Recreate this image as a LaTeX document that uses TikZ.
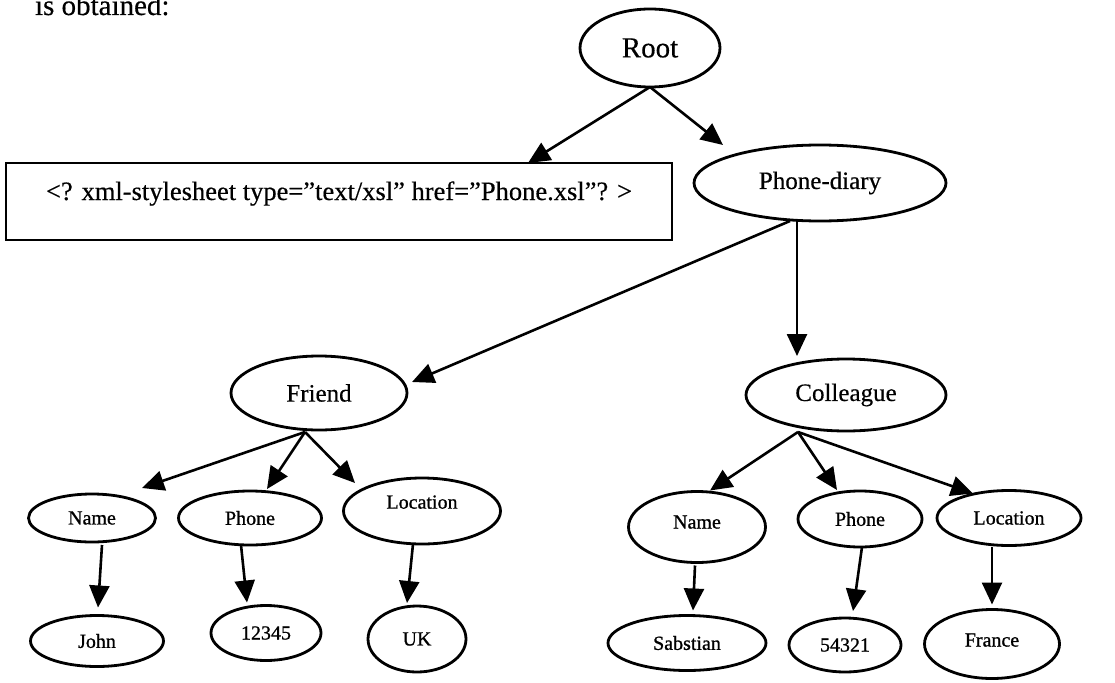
\documentclass[tikz,border=0pt]{standalone}
\usepackage{fontspec}
\setmainfont{Liberation Serif}
\usetikzlibrary{shapes.geometric,arrows.meta,calc}
\begin{document}
\begin{tikzpicture}[x=1pt,y=-1pt,
  every node/.style={inner sep=0pt,outer sep=0pt},
  ell/.style args={#1/#2}{draw,ellipse,line width=2.8pt,fill=white,
    minimum width=#1,minimum height=#2},
  fbig/.style={font=\fontsize{29}{32}\selectfont\addfontfeature{FakeBold=0.4}},
  fmid/.style={font=\fontsize{25}{28}\selectfont\addfontfeature{FakeBold=0.4}},
  fbox/.style={font=\fontsize{26.5}{29}\selectfont\addfontfeature{FakeBold=0.4}},
  fsmall/.style={font=\fontsize{20}{22}\selectfont\addfontfeature{FakeBold=0.9}},
  arr/.style={line width=2.6pt,-{Triangle[length=22pt,width=20pt]}}]
\useasboundingbox (0,0) rectangle (1115,682);

% lead-in text, partly above the top edge
\node[fbig,anchor=base west] (lead) at (35,15) {is obtained:};

% upper levels
\node[ell=140/78,fbig] (root) at (650,48) {Root};
\node[draw,line width=2.8pt,fill=white,fbox,minimum width=666,minimum height=77,
  text height=17pt,text depth=20pt] (pi) at (339,201.5)
  {<? xml-stylesheet type=”text/xsl” href=”Phone.xsl”? >};
\node[ell=252/76,fmid] (pd) at (820,183) {Phone-diary};
\node[ell=176/74,fmid] (friend) at (319,393) {Friend};
\node[ell=200/72,fmid] (col) at (846,395) {Colleague};

% Friend subtree
\node[ell=127/48,fsmall] (name1) at (92,518) {Name};
\node[ell=143/54,fsmall] (phone1) at (250,518) {Phone};
\node[ell=157/66,fsmall,text depth=18pt] (loc1) at (422,511) {Location};
\node[ell=133/51,fsmall] (john) at (97,641) {John};
\node[ell=110/55,fsmall] (v12345) at (266,633) {12345};
\node[ell=98/66,fsmall] (uk) at (417,639) {UK};

% Colleague subtree
\node[ell=137/71,fsmall,text depth=10pt] (name2) at (697,527) {Name};
\node[ell=124/56,fsmall] (phone2) at (860,519) {Phone};
\node[ell=144/55,fsmall] (loc2) at (1009,518) {Location};
\node[ell=158/55,fsmall] (sab) at (687,643) {Sabstian};
\node[ell=112/54,fsmall] (v54321) at (845,645) {54321};
\node[ell=135/69,fsmall,text depth=8pt] (france) at (992,644) {France};

% connectors
\draw[arr] (root.south) -- ($(pi.north)+(189,0)$);
\draw[arr] (root.south) -- ($(pd.north)+(-97,0)$);
\draw[arr] ($(pd.south)+(-30,0)$) -- ($(friend.east)+(5,-11)$);
\draw[arr] ($(pd.south)+(-23,0)$) -- ($(col.north)+(-49,-3)$);

\draw[arr] ($(friend.south)+(-14,2)$) -- ($(name1.north)+(50,-6)$);
\draw[arr] ($(friend.south)+(-14,2)$) -- ($(phone1.north)+(17,-2)$);
\draw[arr] ($(friend.south)+(-14,2)$) -- ($(loc1.north)+(-67,5)$);
\draw[arr] ($(name1.south)+(10,3)$) -- ($(john.north)+(1,-8)$);
\draw[arr] ($(phone1.south)+(-9,0)$) -- ($(v12345.north)+(-19,-3)$);
\draw[arr] ($(loc1.south)+(-9,0)$) -- ($(uk.north)+(-10,-3)$);

\draw[arr] ($(col.south)+(-48,1)$) -- ($(name2.north)+(13,-1)$);
\draw[arr] ($(col.south)+(-48,1)$) -- ($(phone2.north)+(-23,-1)$);
\draw[arr] ($(col.south)+(-48,1)$) -- ($(loc2.north)+(-36,3)$);
\draw[arr] ($(name2.south)+(-2,3)$) -- ($(sab.north)+(6,-5)$);
\draw[arr] ($(phone2.south)+(2,0)$) -- ($(v54321.north)+(8,-7)$);
\draw[arr] ($(loc2.south)+(-17,1)$) -- ($(france.north)+(0,-5)$);
\end{tikzpicture}
\end{document}
